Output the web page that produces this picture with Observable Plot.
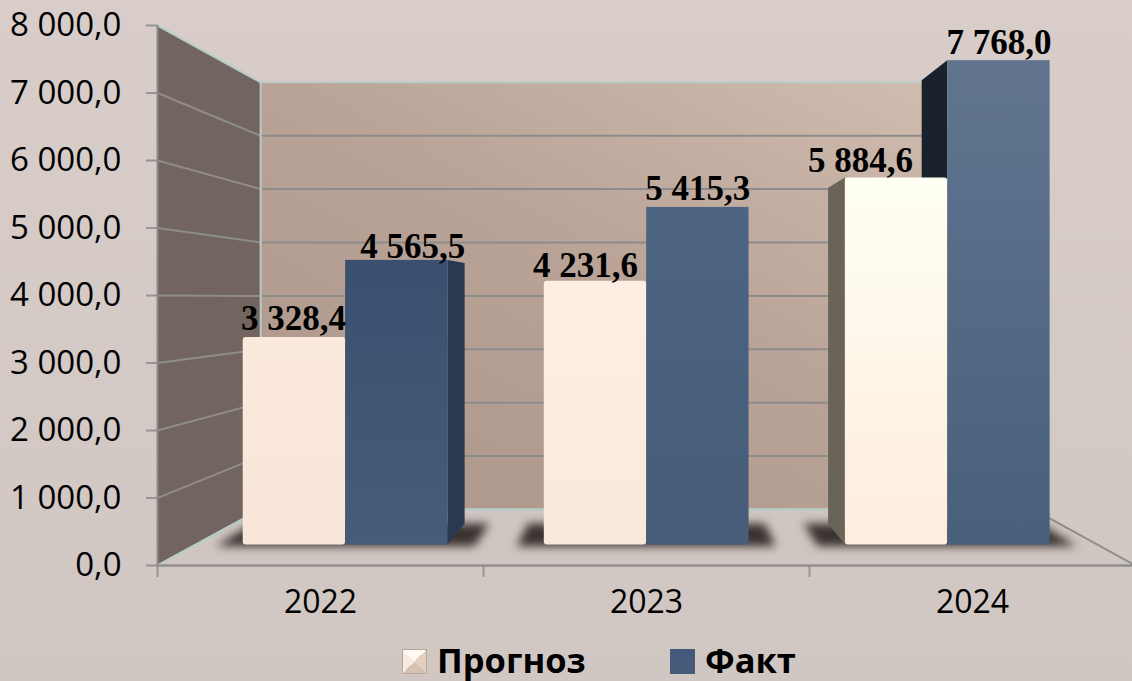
<!DOCTYPE html>
<html>
<head>
<meta charset="utf-8">
<style>
  html, body { margin: 0; padding: 0; width: 1132px; height: 681px; overflow: hidden;
    background: linear-gradient(#d8cdc9, #d0c6c2); }
  #chart { position: relative; width: 1132px; height: 681px; }
  #chart svg { display: block; background: transparent; }
  .lg { position: absolute; font: bold 34.5px "Open Sans", sans-serif; color: #000; line-height: 36px; top: 642px; }
  .sw { position: absolute; top: 649px; width: 25px; height: 25px; box-sizing: border-box; }
</style>
<script src="https://cdn.jsdelivr.net/npm/d3@7"></script>
<script src="https://cdn.jsdelivr.net/npm/@observablehq/plot@0.6"></script>
</head>
<body>
<div id="chart"></div>
<script>
const years = ["2022", "2023", "2024"];
const seriesNames = ["Прогноз", "Факт"];
const forecast = [3328.4, 4231.6, 5884.6];
const fact = [4565.5, 5415.3, 7768.0];
const yTicks = [0, 1000, 2000, 3000, 4000, 5000, 6000, 7000, 8000];

// simple perspective of the 3-D chart box, in the chart's own units
const mid = 1.507, xShrink = 0.21, yShrink = 0.209, yLift = 830;
const px = (u, d) => mid + (u - mid) * (1 - xShrink * d);
const py = (v, d) => v * (1 - yShrink * d) + yLift * d;
const dFront = 0.364, dBack = 0.74, halfGroup = 0.34;

const fmt = d3.formatLocale({decimal: ",", thousands: "\u00a0", grouping: [3]}).format(",.1f");

const bars = [];
years.forEach((yr, i) => {
  const l = i + 0.5 - halfGroup, m = i + 0.5, r = i + 0.5 + halfGroup;
  bars.push({i, s: 0, v: forecast[i], a: l, b: m});
  bars.push({i, s: 1, v: fact[i], a: m, b: r});
});

const frontStops = [
  [["#fbe9dc", "#f9e6d9"], ["#3b5070", "#465c79"]],
  [["#fdeee3", "#fbe8dc"], ["#4d6482", "#465c79"]],
  [["#fffff4", "#feecde"], ["#61758f", "#48607a"]]
];
const sideFill = {"0:1": "#293950", "2:0": "#6a635a", "2:1": "#19212c"};
const labelNudge = {"0:0": [-1, -8], "0:1": [16, -3], "1:0": [-10, -4], "1:1": [0, -8], "2:0": [-36, -6], "2:1": [0, -7]};

const defsMark = () => {
  const g = d3.create("svg:defs");
  const wall = g.append("linearGradient").attr("id", "wall")
    .attr("x1", 0).attr("y1", 1).attr("x2", 1).attr("y2", 0);
  wall.append("stop").attr("offset", 0).attr("stop-color", "#ac9689");
  wall.append("stop").attr("offset", 0.5).attr("stop-color", "#b8a396");
  wall.append("stop").attr("offset", 1).attr("stop-color", "#d4c1b4");
  frontStops.forEach((pair, i) => pair.forEach((c, s) => {
    const lg = g.append("linearGradient").attr("id", `bar${i}${s}`)
      .attr("x1", 0).attr("y1", 0).attr("x2", 0).attr("y2", 1);
    lg.append("stop").attr("offset", 0).attr("stop-color", c[0]);
    lg.append("stop").attr("offset", 1).attr("stop-color", c[1]);
  }));
  return g.node();
};

// a face with vertical edges, between two 3-D points
const face = (pts, opts) => Plot.areaY(pts, {x: "x", y1: "y1", y2: "y2", curve: "linear", ...opts});
const seg = (pts, opts) => Plot.line(pts, {x: "x", y: "y", curve: "linear", ...opts});
const edge = "#b9ccc7", gridCol = "#8e8c8b";

const marks = [defsMark];

// floor
marks.push(face([
  {x: px(0, 0), y1: py(0, 0), y2: py(0, 0)},
  {x: px(0, 1), y1: py(0, 0), y2: py(0, 1)},
  {x: px(3, 1), y1: py(0, 0), y2: py(0, 1)},
  {x: px(3, 0), y1: py(0, 0), y2: py(0, 0)}
], {fill: "#d0c6c1"}));
// back wall
marks.push(face([
  {x: px(0, 1), y1: py(0, 1), y2: py(8000, 1)},
  {x: px(3, 1), y1: py(0, 1), y2: py(8000, 1)}
], {fill: "url(#wall)"}));
// left wall
marks.push(face([
  {x: px(0, 0), y1: py(0, 0), y2: py(8000, 0)},
  {x: px(0, 1), y1: py(0, 1), y2: py(8000, 1)}
], {fill: "#72655f"}));
// grid on both walls
yTicks.slice(1, -1).forEach(v => {
  marks.push(seg([{x: px(0, 0), y: py(v, 0)}, {x: px(0, 1), y: py(v, 1)}, {x: px(3, 1), y: py(v, 1)}],
    {stroke: gridCol, strokeWidth: 2}));
});
// wall edges
marks.push(seg([{x: px(0, 0), y: py(8000, 0)}, {x: px(0, 1), y: py(8000, 1)}, {x: px(3, 1), y: py(8000, 1)}], {stroke: edge, strokeWidth: 2}));
marks.push(seg([{x: px(0, 1), y: py(8000, 1)}, {x: px(0, 1), y: py(0, 1)}], {stroke: edge, strokeWidth: 2}));
marks.push(seg([{x: px(0, 0), y: py(0, 0)}, {x: px(0, 1), y: py(0, 1)}, {x: px(3, 1), y: py(0, 1)}], {stroke: edge, strokeWidth: 2.5}));
marks.push(seg([{x: px(3, 1), y: py(0, 1)}, {x: px(3, 0), y: py(0, 0)}], {stroke: "#8e8e8c", strokeWidth: 2}));

// floor shadows
years.forEach((yr, i) => {
  const e = halfGroup + 0.09, c = i + 0.5;
  marks.push(face([
    {x: px(c - e, dFront), y1: py(-25, dFront), y2: py(-25, dFront)},
    {x: px(c - e, dBack), y1: py(-25, dFront), y2: py(0, dBack)},
    {x: px(c + e, dBack), y1: py(-25, dFront), y2: py(0, dBack)},
    {x: px(c + e, dFront), y1: py(-25, dFront), y2: py(-25, dFront)}
  ], {fill: "#3a3230", imageFilter: "blur(5px)"}));
});

// side faces
bars.forEach(b => {
  const key = `${b.i}:${b.s}`;
  if (!sideFill[key]) return;
  const e = b.i === 0 ? b.b : b.a;
  marks.push(face([
    {x: px(e, dFront), y1: py(0, dFront), y2: py(b.v, dFront)},
    {x: px(e, dBack), y1: py(0, dBack), y2: py(b.v, dBack)}
  ], {fill: sideFill[key]}));
});

// front faces
bars.forEach(b => {
  marks.push(Plot.rect([b], {
    x1: d => px(d.a, dFront), x2: d => px(d.b, dFront),
    y1: () => py(0, dFront), y2: d => py(d.v, dFront),
    fill: `url(#bar${b.i}${b.s})`,
    rx: b.s === 0 ? 3 : 0, inset: 0
  }));
});

// axes
marks.push(Plot.axisY({
  ticks: yTicks, tickFormat: fmt, tickSize: 11, tickPadding: 25,
  fontSize: 33, fontFamily: "'Open Sans', sans-serif", stroke: "#959595", fill: "#000", strokeWidth: 2, label: null
}));
marks.push(Plot.axisX({
  ticks: [0, 1, 2, 3], tickSize: 12, tickFormat: () => "", stroke: "#959595", strokeWidth: 2, label: null
}));
marks.push(Plot.axisX({
  ticks: [0.5, 1.5, 2.5], tickSize: 0, tickPadding: 25, tickFormat: (d, i) => years[i],
  fontSize: 32, fontFamily: "'Open Sans', sans-serif", fill: "#000", label: null
}));
marks.push(Plot.ruleX([0], {y1: 0, y2: 8000, stroke: "#8a8a8a", strokeWidth: 2}));
marks.push(Plot.ruleY([0], {x1: 0, x2: 3, stroke: "#8f8f8f", strokeWidth: 2.5}));

// value labels
bars.forEach(b => {
  const [dx, dy] = labelNudge[`${b.i}:${b.s}`];
  marks.push(Plot.text([b], {
    x: d => px((d.a + d.b) / 2, dFront), y: d => py(d.v, dFront),
    text: d => fmt(d.v).replace("\u00a0", " "),
    dx, dy: dy - 11,
    fontSize: 35, fontWeight: "bold", fontFamily: "'Liberation Serif', serif", fill: "#000", stroke: "none"
  }));
});

const plot = Plot.plot({
  width: 1132, height: 635,
  marginLeft: 157, marginRight: 0, marginTop: 25, marginBottom: 70,
  x: {domain: [0, 3], range: [157, 1135], axis: null},
  y: {domain: [0, 8000], range: [565, 25], axis: null},
  style: {background: "transparent", overflow: "visible"},
  marks
});
const host = document.getElementById("chart");
host.appendChild(plot);

const sw1 = document.createElement("div");
sw1.className = "sw";
sw1.style.left = "402px";
sw1.style.background = "conic-gradient(from 45deg, #e2cfc0 0 90deg, #d6c0b0 90deg 180deg, #f5ebe0 180deg 270deg, #fffaf2 270deg 360deg)";
sw1.style.border = "1px solid #b5a79c";
const sw2 = document.createElement("div");
sw2.className = "sw";
sw2.style.left = "670px";
sw2.style.background = "linear-gradient(#42597a, #455c78)";
const t1 = document.createElement("div");
t1.className = "lg"; t1.style.left = "437px"; t1.textContent = seriesNames[0];
const t2 = document.createElement("div");
t2.className = "lg"; t2.style.left = "705px"; t2.textContent = seriesNames[1];
host.append(sw1, t1, sw2, t2);
</script>
</body>
</html>
